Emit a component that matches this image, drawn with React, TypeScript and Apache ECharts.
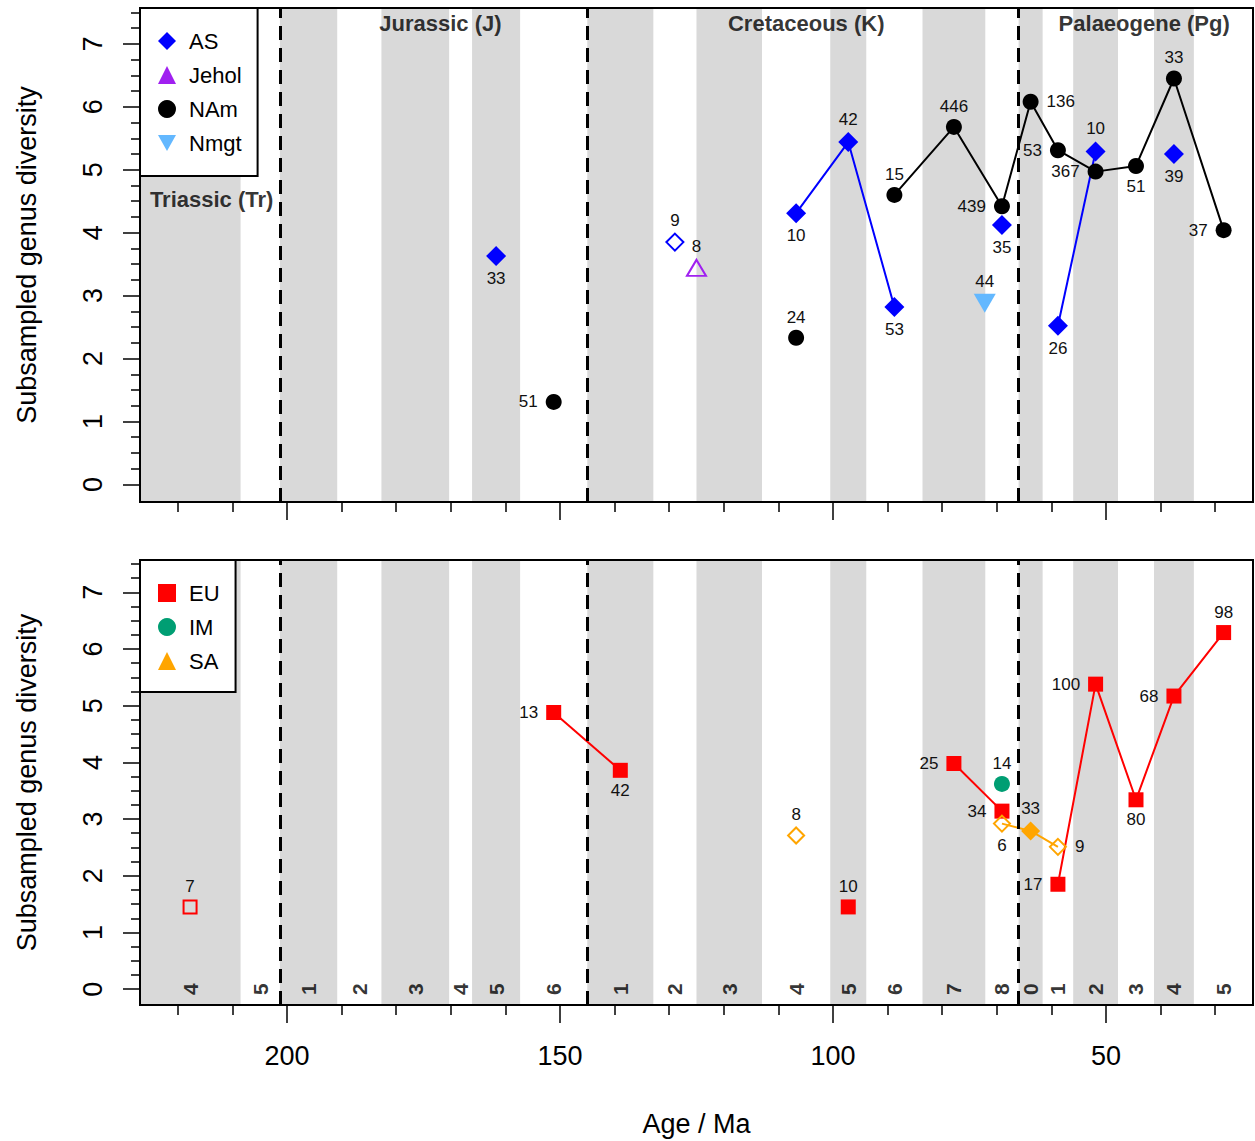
import React, { useEffect, useRef } from "react";
import * as echarts from "echarts";

const FONT = "'Liberation Sans', Arial, Helvetica, sans-serif";

// ---- time scale: stage-bin boundaries (Ma) and stage numbers ----
const stageBounds = [227, 208.5, 201.3, 190.8, 182.7, 170.3, 166.1, 157.3, 145, 132.9, 125, 113, 100.5, 93.9, 83.6, 72.1, 66, 61.6, 56, 47.8, 41.2, 33.9, 23];
const stageNumbers = ["4", "5", "1", "2", "3", "4", "5", "6", "1", "2", "3", "4", "5", "6", "7", "8", "0", "1", "2", "3", "4", "5"];
const periodBoundaries = [201.3, 145, 66];
const periodNames = ["Triassic (Tr)", "Jurassic (J)", "Cretaceous (K)", "Palaeogene (Pg)"];
const periodLabelAge = [213.8, 171.9, 104.9, 43.0];
const periodLabelDiv = [4.52, 7.32, 7.32, 7.32];

// ---- axes ----
const xMajorTicks = [200, 150, 100, 50];
const xMajorLabels = ["200", "150", "100", "50"];
const xMinorTicks = [220, 210, 190, 180, 170, 160, 140, 130, 120, 110, 90, 80, 70, 60, 40, 30];
const yMajorTicks = [0, 1, 2, 3, 4, 5, 6, 7];
const yMinorTicks = [0.25, 0.5, 0.75, 1.25, 1.5, 1.75, 2.25, 2.5, 2.75, 3.25, 3.5, 3.75, 4.25, 4.5, 4.75, 5.25, 5.5, 5.75, 6.25, 6.5, 6.75, 7.25, 7.5];
const X_MIN = 23.07;
const X_MAX = 226.92;
const Y_MIN = -0.28;
const Y_MAX = 7.57;

// ---- top panel ----
const asStage = [6, 9, 11, 12, 13, 15, 17, 18, 20];
const asDiv = [3.63, 3.85, 4.31, 5.44, 2.82, 4.12, 2.52, 5.29, 5.25];
const asN = [33, 9, 10, 42, 53, 35, 26, 10, 39];
const asLabelSide = ["bottom", "top", "bottom", "top", "bottom", "bottom", "bottom", "top", "bottom"];

const jeholAge = [125.0];
const jeholDiv = [3.44];
const jeholN = [8];
const jeholLabelSide = ["top"];

const namStage = [7, 11, 13, 14, 15, 16, 17, 18, 19, 20, 21];
const namDiv = [1.31, 2.33, 4.6, 5.68, 4.42, 6.08, 5.31, 4.97, 5.06, 6.45, 4.04];
const namN = [51, 24, 15, 446, 439, 136, 53, 367, 51, 33, 37];
const namLabelSide = ["left", "top", "top", "top", "left", "right", "left", "left", "bottom", "top", "left"];

const nmgtAge = [72.2];
const nmgtDiv = [2.88];
const nmgtN = [44];
const nmgtLabelSide = ["top"];

// ---- bottom panel ----
const euStage = [0, 7, 8, 12, 14, 15, 17, 18, 19, 20, 21];
const euDiv = [1.45, 4.88, 3.86, 1.45, 3.98, 3.14, 1.85, 5.38, 3.34, 5.17, 6.29];
const euN = [7, 13, 42, 10, 25, 34, 17, 100, 80, 68, 98];
const euLabelSide = ["top", "left", "bottom", "top", "left", "left", "left", "left", "bottom", "left", "top"];

const imStage = [15];
const imDiv = [3.62];
const imN = [14];
const imLabelSide = ["top"];

const saStage = [11, 15, 16, 17];
const saDiv = [2.71, 2.92, 2.79, 2.51];
const saN = [8, 6, 33, 9];
const saLabelSide = ["top", "bottom", "top", "right"];

const stageMid = (i: number) => (stageBounds[i] + stageBounds[i + 1]) / 2;

const INV_TRI = "path://M0,0L20,0L10,18Z";

type Pt = { age: number; div: number; n: number; side: string; stage: number | null };

function makePoints(ages: number[] | null, stages: number[] | null, divs: number[], ns: number[], sides: string[]): Pt[] {
  return divs.map((d, i) => ({
    age: stages ? stageMid(stages[i]) : (ages as number[])[i],
    div: d,
    n: ns[i],
    side: sides[i],
    stage: stages ? stages[i] : null,
  }));
}

function region(
  name: string,
  pts: Pt[],
  color: string,
  symbol: string,
  size: number | number[],
  openSize: number | number[],
  axis: number
) {
  const out: any[] = [];
  let seg: number[][] = [];
  const segs: number[][][] = [];
  pts.forEach((p, i) => {
    if (i > 0 && p.stage !== null && pts[i - 1].stage !== null && p.stage === (pts[i - 1].stage as number) + 1) {
      seg.push([p.age, p.div]);
    } else {
      if (seg.length > 1) segs.push(seg);
      seg = [[p.age, p.div]];
    }
  });
  if (seg.length > 1) segs.push(seg);
  segs.forEach((s, k) => {
    out.push({
      type: "line",
      name: name + "_line" + k,
      xAxisIndex: axis,
      yAxisIndex: axis,
      data: s,
      symbol: "none",
      lineStyle: { color, width: 2, opacity: 1 },
      z: 4,
      silent: true,
    });
  });
  out.push({
    type: "scatter",
    name,
    xAxisIndex: axis,
    yAxisIndex: axis,
    symbol,
    symbolSize: size,
    itemStyle: { color, opacity: 1 },
    z: 5,
    silent: true,
    label: {
      show: true,
      fontSize: 17,
      fontFamily: FONT,
      color: "#111",
      formatter: (p: any) => String(p.data.n),
    },
    data: pts.map((p) => {
      const open = p.n < 10;
      const lr = p.side === "left" || p.side === "right";
      return {
        value: [p.age, p.div],
        n: p.n,
        symbolSize: open ? openSize : size,
        itemStyle: open
          ? { color: "rgba(255,255,255,0)", borderColor: color, borderWidth: 2, opacity: 1 }
          : { color, opacity: 1 },
        label: { position: p.side, distance: lr ? 8 : 4 },
      };
    }),
  });
  return out;
}

function backgroundSeries(axis: number) {
  const bands: any[] = [];
  for (let i = 0; i < stageBounds.length - 1; i += 2) {
    bands.push([{ xAxis: stageBounds[i] }, { xAxis: stageBounds[i + 1] }]);
  }
  return [
    {
      type: "scatter",
      name: "bands" + axis,
      xAxisIndex: axis,
      yAxisIndex: axis,
      data: [],
      z: 1,
      silent: true,
      markArea: {
        silent: true,
        itemStyle: { color: "#d9d9d9", opacity: 1 },
        data: bands,
      },
    },
    {
      type: "scatter",
      name: "bounds" + axis,
      xAxisIndex: axis,
      yAxisIndex: axis,
      data: [],
      z: 3,
      silent: true,
      markLine: {
        silent: true,
        symbol: ["none", "none"],
        label: { show: false },
        lineStyle: { color: "#000", width: 3, type: [14, 8], opacity: 1 },
        data: periodBoundaries.map((b) => ({ xAxis: b })),
      },
    },
  ];
}

function xAxes(grid: number, withLabels: boolean) {
  return [
    {
      type: "value",
      gridIndex: grid,
      position: "bottom",
      min: X_MIN,
      max: X_MAX,
      inverse: true,
      splitLine: { show: false },
      axisLine: { show: false, onZero: false },
      axisTick: { show: true, customValues: xMajorTicks, length: 18, lineStyle: { color: "#000", width: 1.5 } },
      axisLabel: {
        show: withLabels,
        customValues: xMajorTicks,
        formatter: (v: number) => xMajorLabels[xMajorTicks.indexOf(v)] ?? String(v),
        fontSize: 27,
        fontFamily: FONT,
        color: "#000",
        margin: 37,
      },
      name: withLabels ? "Age / Ma" : "",
      nameLocation: "middle",
      nameGap: 105,
      nameTextStyle: { fontSize: 27, fontFamily: FONT, color: "#000" },
    },
    {
      type: "value",
      gridIndex: grid,
      position: "bottom",
      min: X_MIN,
      max: X_MAX,
      inverse: true,
      splitLine: { show: false },
      axisLine: { show: false, onZero: false },
      axisTick: { show: true, customValues: xMinorTicks, length: 10, lineStyle: { color: "#000", width: 1.5 } },
      axisLabel: { show: false },
    },
  ];
}

function yAxes(grid: number) {
  return [
    {
      type: "value",
      gridIndex: grid,
      position: "left",
      min: Y_MIN,
      max: Y_MAX,
      splitLine: { show: false },
      axisLine: { show: false, onZero: false },
      axisTick: { show: true, customValues: yMajorTicks, length: 17, lineStyle: { color: "#000", width: 1.5 } },
      axisLabel: {
        show: true,
        customValues: yMajorTicks,
        rotate: 90,
        fontSize: 27,
        fontFamily: FONT,
        color: "#000",
        margin: 34,
      },
      name: "Subsampled genus diversity",
      nameLocation: "middle",
      nameRotate: 90,
      nameGap: 100,
      nameTextStyle: { fontSize: 27, fontFamily: FONT, color: "#000" },
    },
    {
      type: "value",
      gridIndex: grid,
      position: "left",
      min: Y_MIN,
      max: Y_MAX,
      splitLine: { show: false },
      axisLine: { show: false, onZero: false },
      axisTick: { show: true, customValues: yMinorTicks, length: 9, lineStyle: { color: "#000", width: 1.5 } },
      axisLabel: { show: false },
    },
  ];
}

function legendBox(top: number, names: any[], padding: number[]) {
  return {
    orient: "vertical",
    left: 140,
    top,
    data: names,
    backgroundColor: "#fff",
    borderColor: "#000",
    borderWidth: 2,
    borderRadius: 0,
    padding,
    itemGap: 12,
    itemWidth: 18,
    itemHeight: 18,
    selectedMode: false,
    z: 20,
    textStyle: { fontSize: 22, fontFamily: FONT, color: "#000", padding: [0, 0, 0, 8] },
  };
}

function buildOption() {
  const series: any[] = [];
  series.push(...backgroundSeries(0));
  series.push(...backgroundSeries(2));

  // period titles (top panel)
  series.push({
    type: "scatter",
    name: "periods",
    xAxisIndex: 0,
    yAxisIndex: 0,
    symbolSize: 0,
    z: 6,
    silent: true,
    itemStyle: { color: "rgba(0,0,0,0)" },
    label: {
      show: true,
      position: "inside",
      formatter: "{b}",
      fontSize: 22,
      fontWeight: "bold",
      fontFamily: FONT,
      color: "#000",
    },
    data: periodNames.map((n, i) => ({ name: n, value: [periodLabelAge[i], periodLabelDiv[i]] })),
  });

  // stage numbers (bottom panel)
  series.push({
    type: "scatter",
    name: "stages",
    xAxisIndex: 2,
    yAxisIndex: 2,
    symbolSize: 0,
    z: 6,
    silent: true,
    itemStyle: { color: "rgba(0,0,0,0)" },
    label: {
      show: true,
      position: "inside",
      formatter: "{b}",
      rotate: 90,
      fontSize: 21,
      fontWeight: "bold",
      fontFamily: FONT,
      color: "#000",
    },
    data: stageNumbers.map((s, i) => ({ name: s, value: [stageMid(i), 0] })),
  });

  // top panel data
  series.push(...region("AS", makePoints(null, asStage, asDiv, asN, asLabelSide), "#0000ff", "diamond", 20, 17, 0));
  series.push(...region("Jehol", makePoints(jeholAge, null, jeholDiv, jeholN, jeholLabelSide), "#a020f0", "triangle", [21, 18], [19, 16], 0));
  series.push(...region("NAm", makePoints(null, namStage, namDiv, namN, namLabelSide), "#000000", "circle", 16, 14, 0));
  series.push(...region("Nmgt", makePoints(nmgtAge, null, nmgtDiv, nmgtN, nmgtLabelSide), "#63b8ff", INV_TRI, [22, 19], [20, 17], 0));

  // bottom panel data
  series.push(...region("EU", makePoints(null, euStage, euDiv, euN, euLabelSide), "#ff0000", "rect", 15, 13, 2));
  series.push(...region("IM", makePoints(null, imStage, imDiv, imN, imLabelSide), "#009e73", "circle", 16, 14, 2));
  series.push(...region("SA", makePoints(null, saStage, saDiv, saN, saLabelSide), "#ffa500", "diamond", 19, 16, 2));

  return {
    animation: false,
    backgroundColor: "#fff",
    textStyle: { fontFamily: FONT },
    grid: [
      { left: 140, top: 8, width: 1113, height: 494, show: true, borderColor: "#000", borderWidth: 2, backgroundColor: "rgba(0,0,0,0)", z: 10, containLabel: false },
      { left: 140, top: 560, width: 1113, height: 445, show: true, borderColor: "#000", borderWidth: 2, backgroundColor: "rgba(0,0,0,0)", z: 10, containLabel: false },
    ],
    xAxis: [...xAxes(0, false), ...xAxes(1, true)],
    yAxis: [...yAxes(0), ...yAxes(1)],
    legend: [
      legendBox(8, [{ name: "AS" }, { name: "Jehol" }, { name: "NAm" }, { name: "Nmgt" }], [22, 16, 22, 18]),
      legendBox(560, [{ name: "EU" }, { name: "IM" }, { name: "SA", icon: "triangle" }], [22, 16, 20, 18]),
    ],
    series,
  };
}

export default function App() {
  const ref = useRef<HTMLDivElement>(null);
  useEffect(() => {
    if (!ref.current) return;
    const chart = echarts.init(ref.current, null, { renderer: "svg" });
    chart.setOption(buildOption() as any);
    return () => chart.dispose();
  }, []);
  return (
    <div
      ref={ref}
      style={{ position: "absolute", left: 0, top: 0, width: 1255, height: 1141, background: "#fff" }}
    />
  );
}
